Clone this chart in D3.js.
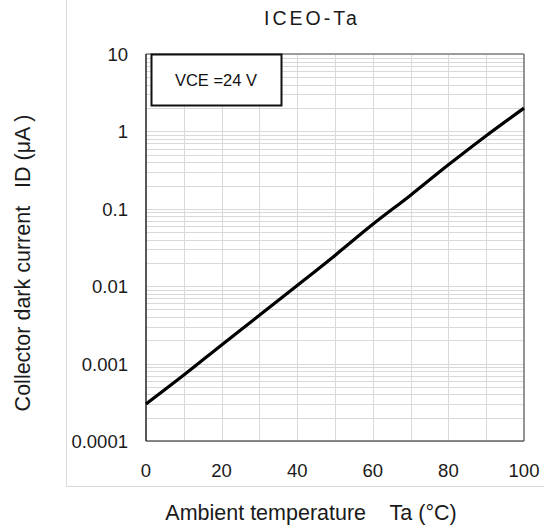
<!DOCTYPE html>
<html><head><meta charset="utf-8">
<script src="https://cdn.jsdelivr.net/npm/d3@7"></script>
<style>
html,body{margin:0;padding:0;background:#fff;}
svg{display:block;font-family:"Liberation Sans",Arial,sans-serif;}
</style></head>
<body>
<svg id="c" width="544" height="531"></svg>
<script>
const temps = [0, 10, 20, 30, 40, 50, 60, 70, 80, 90, 100];
const dark = [0.0003, 0.00071, 0.00174, 0.0042, 0.0102, 0.025, 0.063, 0.15, 0.37, 0.88, 2.0];
const xTicks = [0, 20, 40, 60, 80, 100];
const yTicks = [0.0001, 0.001, 0.01, 0.1, 1, 10];
const yTickLabels = ["0.0001", "0.001", "0.01", "0.1", "1", "10"];
const title = "ICEO-Ta";
const xTitle = "Ambient temperature    Ta (°C)";
const yTitle = "Collector dark current   ID (μA )";
const legendText = "VCE =24 V";

const svg = d3.select("#c");
const L = 146, T = 54, R = 524, B = 441;
const x = d3.scaleLinear().domain([0, 100]).range([L, R]);
const y = d3.scaleLog().domain([0.0001, 10]).range([B, T]);

// chart area border
svg.append("rect").attr("x", 66.5).attr("y", -5).attr("width", 500).attr("height", 491.5)
  .attr("fill", "#fff").attr("stroke", "#d9d9d9").attr("stroke-width", 1);

// minor grid
const g = svg.append("g");
const hLines = [];
for (let e = -4; e <= 0; e++) for (let k = 1; k <= 9; k++) hLines.push(k * Math.pow(10, e));
hLines.push(10);
g.selectAll("line.h").data(hLines).join("line").attr("class", "h")
  .attr("x1", L).attr("x2", R).attr("y1", d => Math.round(y(d)) + 0.5).attr("y2", d => Math.round(y(d)) + 0.5)
  .attr("stroke", "#d9d9d9").attr("stroke-width", 1);
g.selectAll("line.v").data(d3.range(10, 100, 10)).join("line").attr("class", "v")
  .attr("y1", T).attr("y2", B).attr("x1", d => Math.round(x(d)) + 0.5).attr("x2", d => Math.round(x(d)) + 0.5)
  .attr("stroke", "#d9d9d9").attr("stroke-width", 1);

// plot frame
svg.append("line").attr("x1", L).attr("x2", R).attr("y1", T).attr("y2", T).attr("stroke", "#808080").attr("stroke-width", 1.5);
svg.append("line").attr("x1", R).attr("x2", R).attr("y1", T).attr("y2", B).attr("stroke", "#707070").attr("stroke-width", 1.5);
svg.append("line").attr("x1", L).attr("x2", R).attr("y1", B).attr("y2", B).attr("stroke", "#606060").attr("stroke-width", 1.5);
svg.append("line").attr("x1", L).attr("x2", L).attr("y1", T).attr("y2", B).attr("stroke", "#222").attr("stroke-width", 1.5);

// data line
const line = d3.line().x((d, i) => x(temps[i])).y(d => y(d)).curve(d3.curveMonotoneX);
svg.append("path").datum(dark).attr("d", line).attr("fill", "none")
  .attr("stroke", "#000").attr("stroke-width", 3.2).attr("stroke-linejoin", "round");

// legend box
svg.append("rect").attr("x", 151.5).attr("y", 54.5).attr("width", 130).attr("height", 51)
  .attr("fill", "#fff").attr("stroke", "#111").attr("stroke-width", 2);
svg.append("text").attr("x", 216).attr("y", 86).attr("text-anchor", "middle")
  .attr("font-size", 16.5).attr("fill", "#111").text(legendText);

// y tick labels
svg.selectAll("text.yt").data(yTicks).join("text").attr("class", "yt")
  .attr("x", 128).attr("y", d => y(d) + 7).attr("text-anchor", "end")
  .attr("font-size", 18.5).attr("fill", "#1a1a1a").text((d, i) => yTickLabels[i]);
// x tick labels
svg.selectAll("text.xt").data(xTicks).join("text").attr("class", "xt")
  .attr("x", d => x(d)).attr("y", 477).attr("text-anchor", "middle")
  .attr("font-size", 18.5).attr("fill", "#1a1a1a").text(d => d);

// titles
svg.append("text").attr("x", 312).attr("y", 25).attr("text-anchor", "middle")
  .attr("font-size", 19.5).attr("letter-spacing", "3px").attr("fill", "#1a1a1a").text(title);
svg.append("text").attr("x", 311).attr("y", 520).attr("text-anchor", "middle")
  .attr("font-size", 21.5).attr("fill", "#1a1a1a").style("white-space", "pre").text(xTitle);
svg.append("text").attr("transform", "translate(30,263) rotate(-90)").attr("text-anchor", "middle")
  .attr("font-size", 21.5).attr("fill", "#1a1a1a").style("white-space", "pre").text(yTitle);
</script>
</body></html>
